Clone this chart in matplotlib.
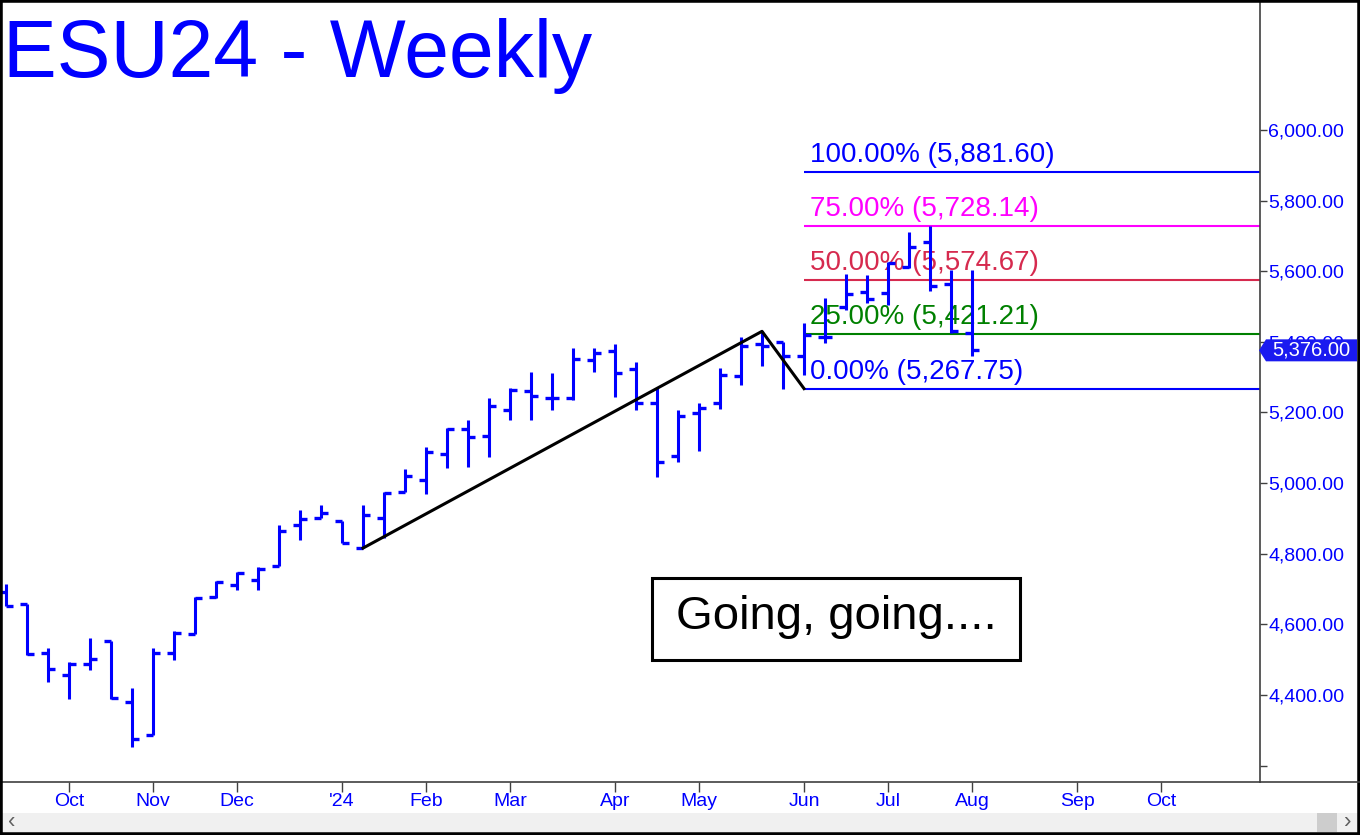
import matplotlib
matplotlib.use('Agg')
import matplotlib.pyplot as plt
import matplotlib.patches as mpatches
from matplotlib.lines import Line2D
from matplotlib.transforms import IdentityTransform
import numpy as np
import pandas as pd

plt.rcParams['font.family'] = ['Liberation Sans', 'DejaVu Sans']

# weekly OHLC (Sep 15 2023 .. Aug 2 2024)
opens = [4693, 4658, 4518, 4458, 4489, 4552, 4380, 4286, 4518, 4573,
         4678, 4712, 4727, 4765, 4880, 4901, 4892, 4816, 4901, 4975,
         5010, 5083, 5153, 5134, 5208, 5262, 5241, 5241, 5349, 5375,
         5323, 5228, 5076, 5198, 5227, 5302, 5395, 5399, 5361, 5415,
         5500, 5540, 5538, 5611, 5684, 5564, 5425]
highs = [4713, 4658, 4534, 4493, 4560, 4552, 4419, 4534, 4581, 4678,
         4722, 4748, 4763, 4882, 4925, 4939, 4892, 4939, 4975, 5040,
         5102, 5155, 5180, 5242, 5269, 5314, 5312, 5382, 5382, 5394,
         5343, 5270, 5206, 5228, 5326, 5415, 5429.85, 5401, 5453, 5524,
         5593, 5590, 5626, 5710, 5727, 5604, 5604]
lows = [4651, 4513, 4438, 4389, 4472, 4389, 4254, 4286, 4499, 4573,
        4676, 4697, 4697, 4765, 4840, 4901, 4831, 4816, 4845, 4974,
        4969, 5043, 5047, 5074, 5178, 5178, 5208, 5236, 5316, 5245,
        5208, 5018, 5060, 5090, 5210, 5279, 5333, 5267.75, 5305, 5397,
        5491, 5510, 5505, 5609, 5543, 5426, 5359]
closes = [4653, 4515, 4475, 4489, 4503, 4391, 4274, 4518, 4576, 4676,
          4719, 4746, 4757, 4865, 4899, 4914, 4831, 4911, 4973, 5021,
          5088, 5153, 5131, 5218, 5264, 5247, 5241, 5351, 5368, 5312,
          5228, 5060, 5191, 5213, 5307, 5387, 5387, 5359, 5420, 5413,
          5536, 5521, 5623, 5668, 5557, 5430, 5376]

week_dates = pd.date_range('2023-09-15', periods=56, freq='W-FRI')

# A-B-C swing drawn on the chart
swing_idx = [17, 36, 38]
swing_px = [4816.00, 5429.85, 5267.75]

fib_pcts = ['100.00%', '75.00%', '50.00%', '25.00%', '0.00%']
fib_vals = [5881.60, 5728.14, 5574.67, 5421.21, 5267.75]
fib_colors = ['#0000ff', '#ff00ff', '#d62a4e', '#008000', '#0000ff']

price_ticks = list(range(4200, 6001, 200))
price_labels = ['' if p == 4200 else f'{p:,.2f}' for p in price_ticks]

blue = '#0000ff'
axis_gray = '#404040'

fig = plt.figure(figsize=(13.6, 8.35), dpi=100)
ax = fig.add_axes([0, 53 / 835, 1260 / 1360, 782 / 835])
ax.set_xlim(-0.2857, 59.714)
ax.set_ylim(4153.6, 6368.1)

# OHLC bars
x = np.arange(len(closes))
ax.vlines(x, lows, highs, color=blue, lw=2.2, zorder=3)
ax.hlines(opens, x - 0.34, x, color=blue, lw=2.4, zorder=3)
ax.hlines(closes, x, x + 0.34, color=blue, lw=2.4, zorder=3)

# swing line
ax.plot(swing_idx, swing_px, color='black', lw=2.2, zorder=4)

# fibonacci targets
xmax = ax.get_xlim()[1]
for lab, v, c in zip(fib_pcts, fib_vals, fib_colors):
    ax.hlines(v, swing_idx[-1], xmax, color=c, lw=1.5, zorder=2)
    ax.annotate(f'{lab} ({v:,.2f})', xy=(swing_idx[-1], v), xytext=(4.5, 7.2),
                textcoords='offset points', color=c, fontsize=20,
                ha='left', va='baseline', zorder=1)

# comment box
ax.add_patch(mpatches.Rectangle((652 / 1260, 1 - 660 / 782), 368 / 1260, 82 / 782,
                                transform=ax.transAxes, fc='white', ec='black',
                                lw=2.2, zorder=5))
ax.text(836 / 1260, 1 - 617 / 782, 'Going, going....', transform=ax.transAxes,
        ha='center', va='center', fontsize=34, color='black', zorder=6)

# axes styling
ax.yaxis.tick_right()
ax.set_yticks(price_ticks)
ax.set_yticklabels(price_labels)
ax.tick_params(axis='y', direction='out', length=5, width=1, color=axis_gray,
               labelcolor=blue, labelsize=14, pad=1)

month_pos = [i for i in range(1, len(week_dates)) if week_dates[i].month != week_dates[i - 1].month]
month_labels = ["'" + week_dates[i].strftime('%y') if week_dates[i].month == 1
                else week_dates[i].strftime('%b') for i in month_pos]
ax.set_xticks(month_pos)
ax.set_xticklabels(month_labels)
ax.tick_params(axis='x', direction='out', length=7, width=1, color=axis_gray,
               labelcolor=blue, labelsize=14, pad=1)

ax.spines['left'].set_visible(False)
ax.spines['top'].set_visible(False)
for s in ['right', 'bottom']:
    ax.spines[s].set_color(axis_gray)
    ax.spines[s].set_linewidth(1.2)

fig.add_artist(Line2D([1260 / 1360, 1], [53 / 835, 53 / 835], transform=fig.transFigure,
                      color=axis_gray, lw=1.2))

# title
fig.text(0.002, 1 - 77 / 835, 'ESU24 - Weekly', fontsize=58, color=blue,
         ha='left', va='baseline')

# last price tag
yp = ax.transData.transform((0, closes[-1]))[1]
tag = mpatches.Polygon([(1259, yp), (1266, yp + 11), (1357, yp + 11),
                        (1357, yp - 11), (1266, yp - 11)],
                       closed=True, transform=IdentityTransform(),
                       fc='#1a1af0', ec='none', zorder=5)
fig.add_artist(tag)
fig.text(1311 / 1360, yp / 835, f'{closes[-1]:,.2f}', color='white', fontsize=14.5,
         ha='center', va='center', zorder=6)

# scrollbar
fig.add_artist(mpatches.Rectangle((0, 3 / 835), 1, 19 / 835, transform=fig.transFigure,
                                  fc='#f0f0f0', ec='none'))
fig.add_artist(mpatches.Rectangle((1317 / 1360, 3 / 835), 20 / 1360, 19 / 835,
                                  transform=fig.transFigure, fc='#cdcdcd', ec='none'))
fig.text(12 / 1360, 12.5 / 835, '\u2039', color='#606060', fontsize=16, ha='center', va='center')
fig.text(1348 / 1360, 12.5 / 835, '\u203a', color='#606060', fontsize=16, ha='center', va='center')

# outer frame
fig.add_artist(mpatches.Rectangle((0, 0), 1, 1, transform=fig.transFigure, fill=False,
                                  ec='black', lw=4))

fig.savefig('out.png', dpi=100)
